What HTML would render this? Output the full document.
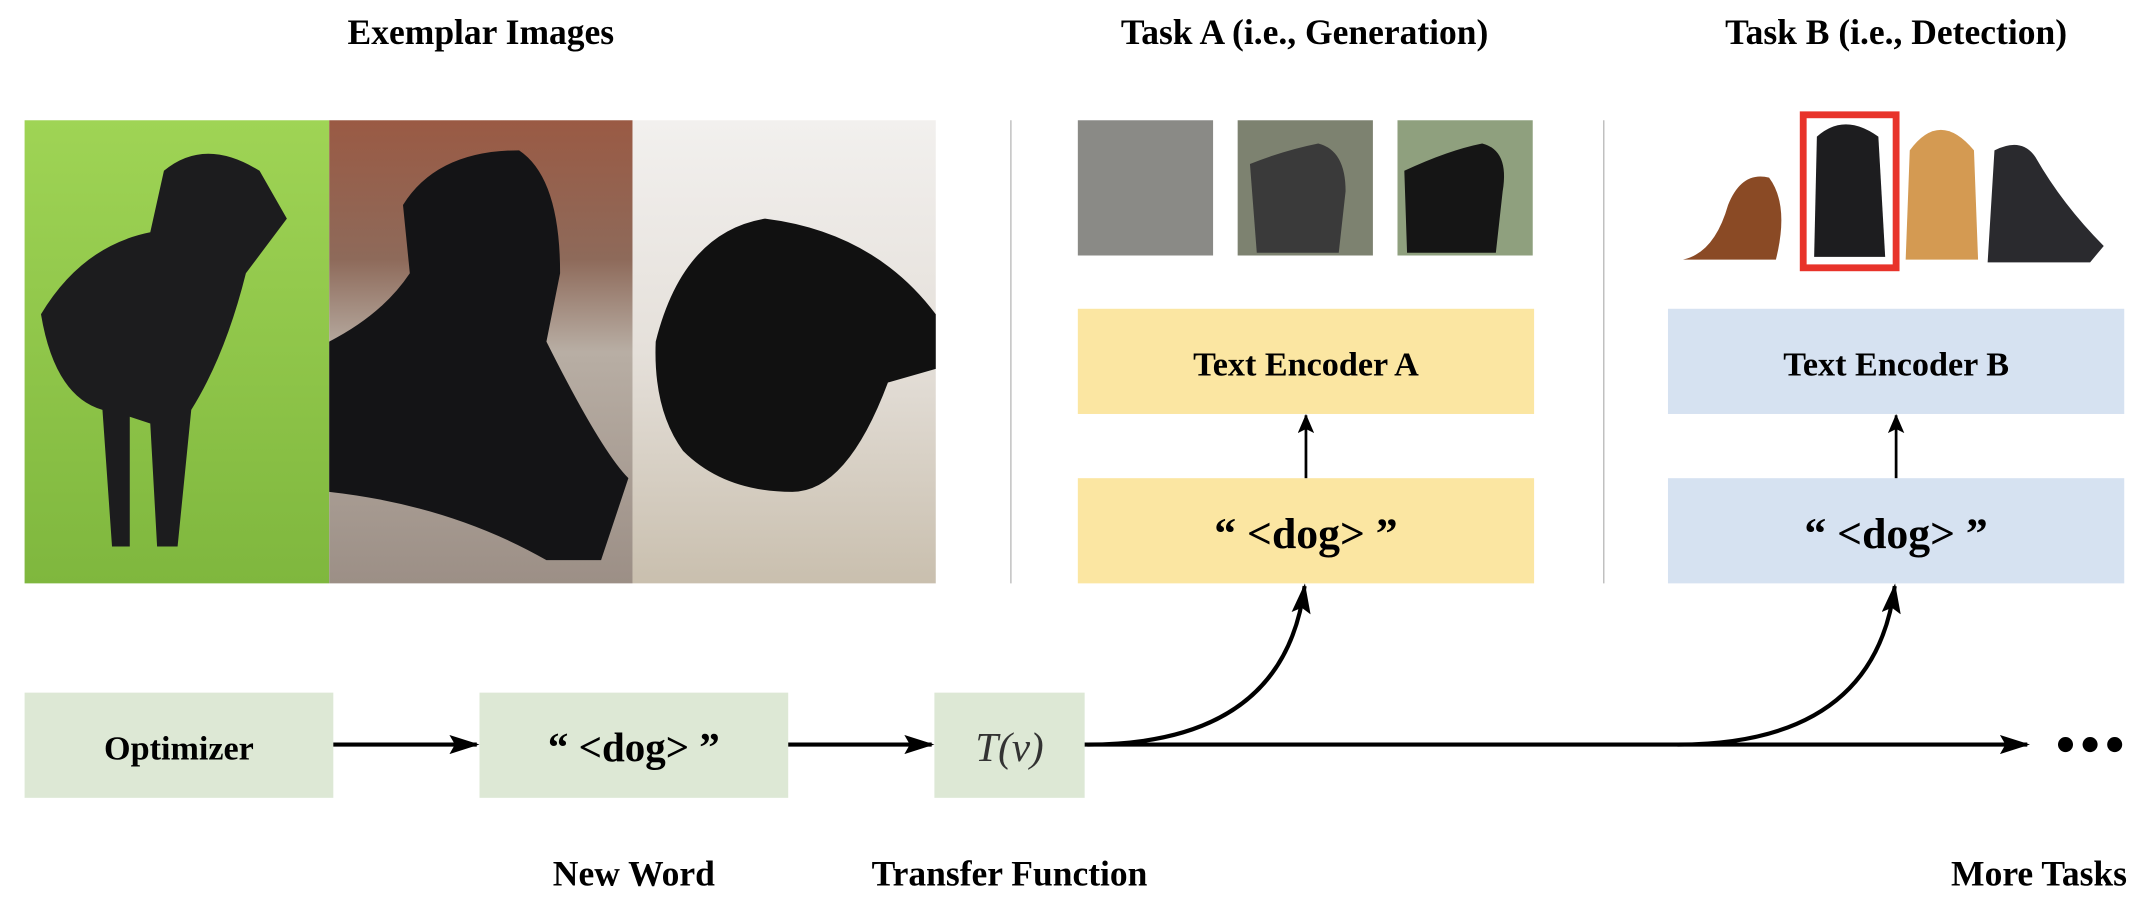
<!DOCTYPE html>
<html><head><meta charset="utf-8"><style>
html,body{margin:0;padding:0;background:#fff;width:2142px;height:914px;overflow:hidden}
svg{display:block}
text{font-family:"Liberation Serif","Times New Roman",serif;font-weight:bold;fill:#000}
</style></head><body>
<svg width="2142" height="914" viewBox="0 0 1568 669" xmlns="http://www.w3.org/2000/svg">
<defs>
<marker id="ah" markerWidth="22" markerHeight="14" refX="20" refY="7" orient="auto" markerUnits="userSpaceOnUse">
<path d="M0,0 L22,7 L0,14 L4,7 z" fill="#000"/></marker>
<marker id="ah2" markerWidth="14" markerHeight="12" refX="13" refY="6" orient="auto" markerUnits="userSpaceOnUse">
<path d="M0,0 L14,6 L0,12 L3,6 z" fill="#000"/></marker>
<linearGradient id="g1" x1="0" y1="0" x2="0" y2="1"><stop offset="0" stop-color="#9fd455"/><stop offset="1" stop-color="#7fb73e"/></linearGradient>
<linearGradient id="g2" x1="0" y1="0" x2="0" y2="1"><stop offset="0" stop-color="#9a5a44"/><stop offset="0.3" stop-color="#8e6a5a"/><stop offset="0.5" stop-color="#b8aea4"/><stop offset="1" stop-color="#9c8f86"/></linearGradient>
<linearGradient id="g3" x1="0" y1="0" x2="0" y2="1"><stop offset="0" stop-color="#f2f0ee"/><stop offset="0.5" stop-color="#e5e0da"/><stop offset="1" stop-color="#c9bfae"/></linearGradient>
</defs>
<text x="352" y="32" font-size="26" text-anchor="middle">Exemplar Images</text>
<text x="955" y="32" font-size="26" text-anchor="middle">Task A (i.e., Generation)</text>
<text x="1388" y="32" font-size="26" text-anchor="middle">Task B (i.e., Detection)</text>
<rect x="18" y="88" width="223" height="339" fill="url(#g1)"/>
<path d="M30,230 Q60,180 110,170 L120,125 Q150,100 190,125 L210,160 L180,200 Q165,260 140,300 L130,400 L115,400 L110,310 L95,305 L95,400 L82,400 L75,300 Q40,290 30,230z" fill="#1c1c1e"/>
<rect x="241" y="88" width="222" height="339" fill="url(#g2)"/>
<path d="M241,250 Q280,230 300,200 L295,150 Q320,110 380,110 Q410,130 410,200 L400,250 Q440,330 460,350 L440,410 L400,410 Q330,370 241,360z" fill="#141416"/>
<rect x="463" y="88" width="222" height="339" fill="url(#g3)"/>
<path d="M480,250 Q500,170 560,160 Q640,170 685,230 L685,270 L650,280 Q620,360 580,360 Q530,360 500,330 Q478,300 480,250z" fill="#111"/>
<line x1="740" y1="88" x2="740" y2="427" stroke="#bbb" stroke-width="1"/>
<line x1="1174" y1="88" x2="1174" y2="427" stroke="#bbb" stroke-width="1"/>
<rect x="789" y="88" width="99" height="99" fill="#8a8a86"/>
<rect x="906" y="88" width="99" height="99" fill="#7d8270"/>
<path d="M915,120 Q940,110 965,105 Q985,110 985,140 L980,185 L920,185z" fill="#3a3a3a"/>
<rect x="1023" y="88" width="99" height="99" fill="#8fa07e"/>
<path d="M1028,125 Q1060,110 1085,105 Q1105,110 1100,140 L1095,185 L1030,185z" fill="#151515"/>
<path d="M1232,190 Q1255,185 1265,150 Q1275,125 1295,130 Q1310,150 1300,190z" fill="#8a4a25"/>
<path d="M1328,188 L1330,100 Q1350,82 1375,100 L1380,188z" fill="#1d1d1f"/>
<path d="M1395,190 L1398,110 Q1420,80 1445,110 L1448,190z" fill="#d49a52"/>
<path d="M1455,192 L1460,110 Q1480,100 1490,115 Q1510,150 1540,180 L1530,192z" fill="#2a2a2e"/>
<rect x="1320" y="84" width="68" height="112" fill="none" stroke="#e8332a" stroke-width="5"/>
<rect x="789" y="226" width="334" height="77" fill="#fbe6a2"/>
<text x="956" y="275" font-size="25" text-anchor="middle">Text Encoder A</text>
<rect x="789" y="350" width="334" height="77" fill="#fbe6a2"/>
<text x="956" y="401" font-size="32" text-anchor="middle">“ &lt;dog&gt; ”</text>
<rect x="1221" y="226" width="334" height="77" fill="#d6e2f1"/>
<text x="1388" y="275" font-size="25" text-anchor="middle">Text Encoder B</text>
<rect x="1221" y="350" width="334" height="77" fill="#d6e2f1"/>
<text x="1388" y="401" font-size="32" text-anchor="middle">“ &lt;dog&gt; ”</text>
<line x1="956" y1="350" x2="956" y2="304" stroke="#000" stroke-width="2" marker-end="url(#ah2)"/>
<line x1="1388" y1="350" x2="1388" y2="304" stroke="#000" stroke-width="2" marker-end="url(#ah2)"/>
<rect x="18" y="507" width="226" height="77" fill="#dde8d5"/>
<text x="131" y="556" font-size="25" text-anchor="middle">Optimizer</text>
<rect x="351" y="507" width="226" height="77" fill="#dde8d5"/>
<text x="464" y="557" font-size="30" text-anchor="middle">“ &lt;dog&gt; ”</text>
<rect x="684" y="507" width="110" height="77" fill="#dde8d5"/>
<text x="739" y="557" font-size="30" text-anchor="middle" style="font-weight:normal;font-style:italic;fill:#333">T(v)</text>
<line x1="244" y1="545" x2="349" y2="545" stroke="#000" stroke-width="3" marker-end="url(#ah)"/>
<line x1="577" y1="545" x2="682" y2="545" stroke="#000" stroke-width="3" marker-end="url(#ah)"/>
<line x1="794" y1="545" x2="1484" y2="545" stroke="#000" stroke-width="3" marker-end="url(#ah)"/>
<path d="M796,545 Q940,545 955,429" fill="none" stroke="#000" stroke-width="3" marker-end="url(#ah)"/>
<path d="M1228,545 Q1372,545 1387,429" fill="none" stroke="#000" stroke-width="3" marker-end="url(#ah)"/>
<circle cx="1512" cy="545" r="5.5" fill="#000"/><circle cx="1530" cy="545" r="5.5" fill="#000"/><circle cx="1548" cy="545" r="5.5" fill="#000"/>
<text x="464" y="648" font-size="26" text-anchor="middle">New Word</text>
<text x="739" y="648" font-size="26" text-anchor="middle">Transfer Function</text>
<text x="1557" y="648" font-size="26" text-anchor="end">More Tasks</text>
</svg>
</body></html>
